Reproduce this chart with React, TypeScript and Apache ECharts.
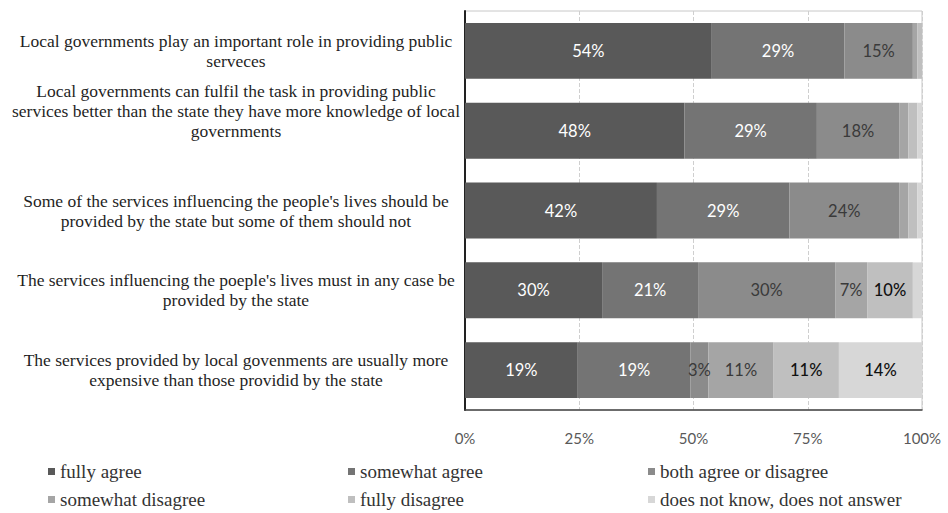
import React, { useEffect, useRef } from "react";
import * as echarts from "echarts";

const categories = [
  "Local governments play an important role in providing public\nserveces",
  "Local governments can fulfil the task in providing public\nservices better than the state they have more knowledge of local\ngovernments\n\n",
  "Some of the services influencing the people's lives should be\nprovided by the state but some of them should not",
  "The services influencing the poeple's lives must in any case be\nprovided by the state",
  "The services provided by local govenments are usually more\nexpensive than those providid by the state",
];

const seriesNames = [
  "fully agree",
  "somewhat agree",
  "both agree or disagree",
  "somewhat disagree",
  "fully disagree",
  "does not know, does not answer",
];

const fullyAgree = [54, 48, 42, 30, 19];
const somewhatAgree = [29, 29, 29, 21, 19];
const bothAgreeOrDisagree = [15, 18, 24, 30, 3];
const somewhatDisagree = [1, 2, 2, 7, 11];
const fullyDisagree = [1, 2, 2, 10, 11];
const doesNotKnow = [0, 1, 1, 2, 14];

const xTickValues = [0, 25, 50, 75, 100];

const colors = ["#595959", "#747474", "#8b8b8b", "#a5a5a5", "#bfbfbf", "#d7d7d7"];
const labelColors = ["#ffffff", "#ffffff", "#3a3a3a", "#3a3a3a", "#111111", "#111111"];

const SERIF = "'Liberation Serif', 'Times New Roman', 'DejaVu Serif', serif";

export default function App() {
  const ref = useRef<HTMLDivElement>(null);

  useEffect(() => {
    if (!ref.current) return;
    const chart = echarts.init(ref.current, null, { renderer: "svg" });
    const raw = [fullyAgree, somewhatAgree, bothAgreeOrDisagree, somewhatDisagree, fullyDisagree, doesNotKnow];
    const totals = categories.map((_, i) => raw.reduce((s, arr) => s + arr[i], 0));

    const series = raw.map((arr, si) => ({
      name: seriesNames[si],
      type: "bar",
      stack: "total",
      barCategoryGap: "30%",
      itemStyle: { color: colors[si] },
      label: {
        show: true,
        position: "inside",
        color: labelColors[si],
        fontFamily: "Lato",
        fontSize: 16.5,
        fontWeight: si >= 4 ? 500 : 400,
        formatter: (p: any) => (arr[p.dataIndex] >= 3 ? arr[p.dataIndex] + "%" : ""),
      },
      data: arr.map((v, i) => (v / totals[i]) * 100),
    }));

    const legendPos = [
      [48, 462],
      [348, 462],
      [648, 462],
      [48, 490],
      [348, 490],
      [648, 490],
    ];

    const legends = seriesNames.map((n, i) => ({
      data: [n],
      left: legendPos[i][0],
      top: legendPos[i][1],
      padding: 0,
      itemWidth: 7,
      itemHeight: 7,
      icon: "rect",
      selectedMode: false,
      textStyle: {
        fontFamily: SERIF,
        fontSize: 19,
        color: "#333",
      },
    }));

    chart.setOption({
      animation: false,
      color: colors,
      textStyle: { fontFamily: SERIF },
      grid: {
        left: 465,
        right: 26,
        top: 11,
        bottom: 103,
        show: true,
        borderColor: "#c8c8c8",
        borderWidth: 1,
        containLabel: false,
        outerBoundsMode: "none",
      },
      legend: legends,
      xAxis: {
        type: "value",
        min: xTickValues[0],
        max: xTickValues[xTickValues.length - 1],
        interval: xTickValues[1] - xTickValues[0],
        axisLine: { show: true, lineStyle: { color: "#444", width: 1.5 } },
        axisTick: { show: false },
        splitLine: { show: true, lineStyle: { color: "#cfcfcf", type: "dashed" } },
        axisLabel: {
          formatter: "{value}%",
          fontFamily: "Lato",
          fontSize: 15,
          color: "#595959",
          margin: 20,
        },
      },
      yAxis: {
        type: "category",
        inverse: true,
        data: categories,
        axisLine: { show: true, lineStyle: { color: "#222", width: 2 } },
        axisTick: { show: false },
        axisLabel: {
          fontFamily: SERIF,
          fontSize: 17.5,
          lineHeight: 20,
          color: "#1f1f1f",
          align: "center",
          margin: 229,
        },
      },
      series,
    });
    return () => chart.dispose();
  }, []);

  return (
    <div
      ref={ref}
      style={{ position: "absolute", left: 0, top: 0, width: 948, height: 513, background: "#fff" }}
    />
  );
}
